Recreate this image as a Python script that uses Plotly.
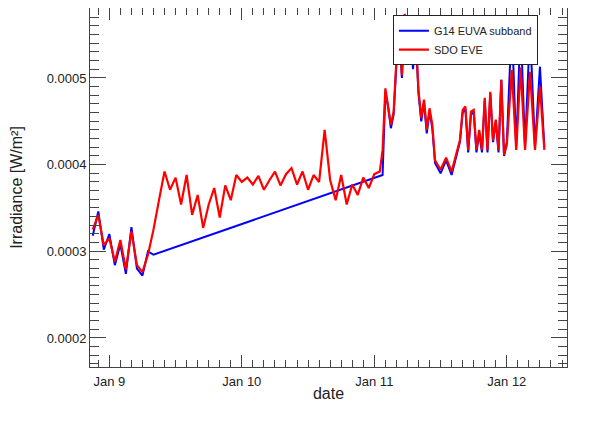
import pandas as pd
import plotly.graph_objects as go

# hours relative to 2013-01-10 00:00
base = pd.Timestamp("2013-01-10 00:00")

eve_hours = [-27, -26, -25, -24, -23, -22, -21, -20, -19, -18, -17, -16, -15, -14,
             -13, -12, -11, -10, -9, -8, -7, -6, -5, -4, -3, -2, -1, 0, 1, 2, 3, 4,
             5, 6, 7, 8, 9, 10, 11, 12, 13, 14, 15, 16, 17, 18, 19, 20, 21, 22, 23,
             24, 25, 25.5, 26, 26.5, 27, 27.5, 28, 28.5, 29, 29.5, 30, 30.5, 31,
             31.5, 32, 32.5, 33, 33.5, 34, 34.5, 35, 36, 37, 38, 39, 39.5, 40, 40.5,
             41, 41.5, 42, 42.5, 43, 43.5, 44, 44.5, 45, 45.5, 46, 46.5, 47, 47.5,
             48, 48.9, 49.7, 50.5, 51.3, 52.2, 53.1, 54.0, 54.8]
eve_vals = [3.25, 3.42, 3.07, 3.15, 2.88, 3.13, 2.79, 3.23, 2.84, 2.76, 2.96, 3.25,
            3.59, 3.92, 3.71, 3.85, 3.54, 3.88, 3.42, 3.65, 3.27, 3.54, 3.73, 3.39,
            3.76, 3.59, 3.88, 3.80, 3.85, 3.77, 3.87, 3.71, 3.82, 3.92, 3.76, 3.89,
            3.96, 3.77, 3.92, 3.71, 3.88, 3.80, 4.40, 3.82, 3.59, 3.88, 3.54, 3.77,
            3.65, 3.85, 3.73, 3.89, 3.92, 4.17, 4.88, 4.69, 4.46, 4.61, 5.21, 5.55,
            5.03, 5.74, 5.27, 5.67, 5.15, 5.50, 4.86, 4.54, 4.75, 4.40, 4.65, 4.46,
            4.05, 3.94, 4.08, 3.92, 4.17, 4.28, 4.63, 4.67, 4.17, 4.61, 4.63, 4.17,
            4.40, 4.17, 4.77, 4.17, 4.84, 4.28, 4.52, 4.17, 4.98, 4.11, 4.23, 5.09,
            4.17, 5.12, 4.17, 5.07, 4.17, 4.90, 4.17]

g14_hours = [-27, -26, -25, -24, -23, -22, -21, -20, -19, -18, -17, -16,
             25.5, 26, 26.5, 27, 27.5, 28, 28.5, 29, 29.5, 30, 30.5, 31,
             31.5, 32, 32.5, 33, 33.5, 34, 34.5, 35, 36, 37, 38, 39, 39.5, 40, 40.5,
             41, 41.5, 42, 42.5, 43, 43.5, 44, 44.5, 45, 45.5, 46, 46.5, 47, 47.5,
             48, 48.9, 49.7, 50.5, 51.3, 52.2, 53.1, 54.0, 54.8]
g14_vals = [3.18, 3.46, 3.02, 3.20, 2.84, 3.08, 2.74, 3.28, 2.80, 2.72, 3.00, 2.96,
            3.88, 4.84, 4.66, 4.42, 4.58, 5.16, 5.50, 5.00, 5.70, 5.22, 5.62, 5.10,
            5.45, 4.82, 4.50, 4.72, 4.36, 4.62, 4.42, 4.02, 3.90, 4.05, 3.88, 4.14,
            4.26, 4.60, 4.64, 4.14, 4.58, 4.60, 4.14, 4.36, 4.14, 4.74, 4.14, 4.82,
            4.26, 4.50, 4.14, 4.98, 4.10, 4.26, 5.65, 4.20, 5.62, 4.20, 5.58, 4.20,
            5.13, 4.20]

eve_t = [base + pd.Timedelta(hours=h) for h in eve_hours]
g14_t = [base + pd.Timedelta(hours=h) for h in g14_hours]

fig = go.Figure()

fig.add_trace(go.Scatter(
    x=g14_t, y=[v * 1e-4 for v in g14_vals],
    mode='lines', name='G14 EUVA subband',
    line=dict(color='#0000ff', width=2)
))

fig.add_trace(go.Scatter(
    x=eve_t, y=[v * 1e-4 for v in eve_vals],
    mode='lines', name='SDO EVE',
    line=dict(color='#ff0000', width=2.2)
))

# the page sits 8px in from the window corner, margins allow for that
fig.update_layout(
    width=613, height=431,
    margin=dict(l=82, r=54, t=0, b=72),
    plot_bgcolor='white',
    paper_bgcolor='white',
    font=dict(family="Liberation Sans", size=13, color="#222222"),
    legend=dict(
        x=0.939, y=0.98, xanchor='right', yanchor='top',
        bgcolor='white', bordercolor='#222222', borderwidth=1,
        font=dict(size=11), itemwidth=30, tracegroupgap=0
    ),
)

fig.update_xaxes(
    range=[base + pd.Timedelta(hours=-27.5), base + pd.Timedelta(hours=58.9)],
    type='date',
    showline=True, linecolor='#444444', linewidth=1, mirror='allticks',
    showgrid=False, zeroline=False,
    ticks='inside', ticklen=12, tickcolor='#444444',
    dtick=86400000, tick0=base, tickformat='%b %-d',
    ticklabelstandoff=2,
    minor=dict(dtick=7200000, ticks='inside', ticklen=7, tickcolor='#444444', showgrid=False),
    title=dict(text='date', standoff=0)
)

fig.update_yaxes(
    range=[0.0001665, 0.0005807],
    showline=True, linecolor='#444444', linewidth=1, mirror='allticks',
    showgrid=False, zeroline=False,
    ticks='inside', ticklen=16, tickcolor='#444444',
    dtick=0.0001, tick0=0, tickformat='.4f',
    minor=dict(dtick=0.00001, ticks='inside', ticklen=9, tickcolor='#444444', showgrid=False),
    title=dict(text='Irradiance [W/m²]', standoff=20)
)

fig.write_html("out.html")
